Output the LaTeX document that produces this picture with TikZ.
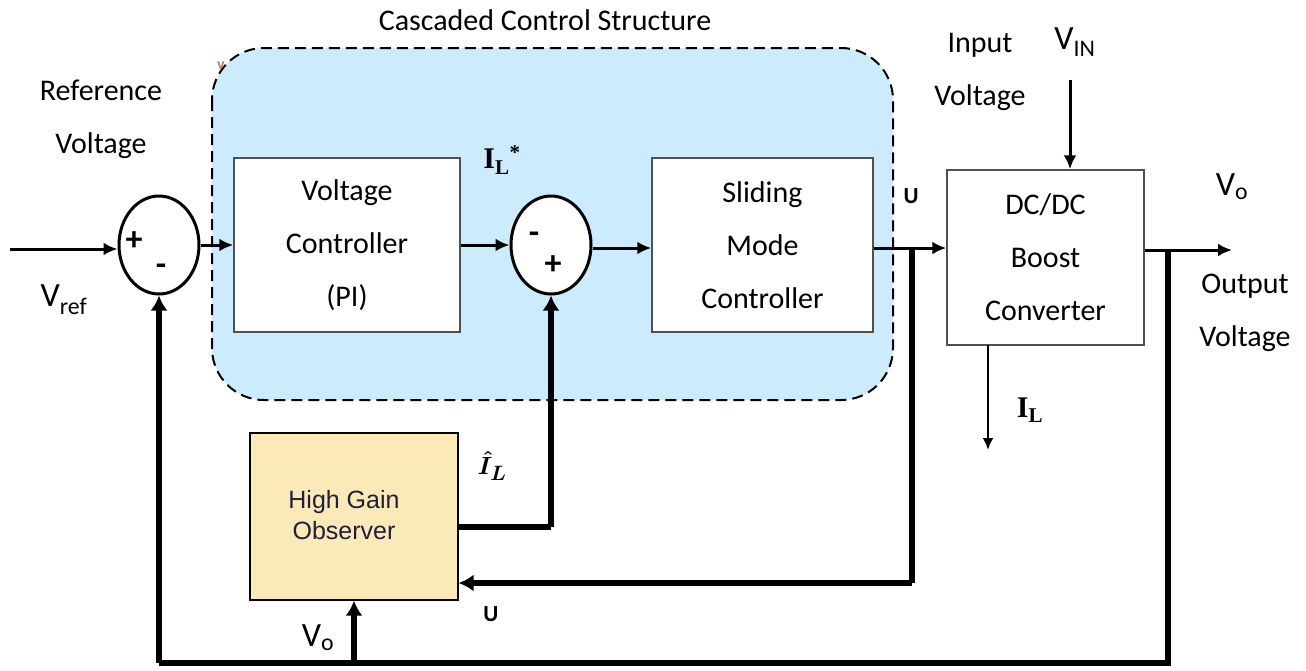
\documentclass[tikz,border=0pt]{standalone}
\usepackage{amsmath}
\usepackage{fontspec}
\setmainfont{Carlito}
\newfontfamily\arialf{Liberation Sans}
\newfontfamily\timesf{Liberation Serif}
\usetikzlibrary{arrows.meta,shapes.geometric}
\definecolor{cblue}{RGB}{204,235,252}
\definecolor{obsfill}{RGB}{252,233,184}
\definecolor{obstext}{RGB}{30,32,60}
\definecolor{boxline}{RGB}{80,80,80}
\begin{document}
\begin{tikzpicture}[x=1pt,y=-1pt,
  lbl/.style={font=\fontsize{30}{53}\selectfont, inner sep=0pt, align=center},
  small/.style={font=\fontsize{23}{24}\selectfont\bfseries, inner sep=0pt},
  sym/.style={font=\fontsize{34}{34}\selectfont\bfseries, inner sep=0pt},
  blockbox/.style={draw=boxline, line width=1.5pt, fill=white, minimum width=226pt, minimum height=174pt, inner sep=0pt, align=center, font=\fontsize{30}{53}\selectfont},
  sumc/.style={draw, ellipse, line width=3pt, fill=white, minimum width=80pt, minimum height=98pt, inner sep=0pt},
  fwd/.style={line width=3pt, -{Latex[length=14pt,width=13pt]}},
  fb/.style={line width=5.5pt},
  fba/.style={line width=5.5pt, -{Latex[length=15pt,width=17pt]}},
  cascbox/.style={draw, dashed, dash pattern=on 11pt off 6pt, line width=2pt, fill=cblue, rounded corners=52pt}
]
\useasboundingbox (0,0) rectangle (1306,670);

% cascaded region
\draw[cascbox] (212,48) rectangle (893,400);
\node[lbl] (title) at (545,20) {Cascaded Control Structure};
\node[font=\fontsize{16}{16}\selectfont\bfseries, text=brown, inner sep=0pt] (vmark) at (221,66) {v};

% blocks
\node[blockbox] (vc) at (347,245) {Voltage\\Controller\\(PI)};
\node[blockbox, minimum width=221pt] (smc) at (762.5,245) {Sliding\\Mode\\Controller};
\node[blockbox, minimum width=197pt, minimum height=175pt] (dc) at (1045.5,257.5) {DC/DC\\Boost\\Converter};
\node[draw=black, line width=1.2pt, fill=obsfill, minimum width=208pt, minimum height=167pt, inner sep=0pt] (obs) at (354,516.5) {};
\node[font=\arialf\fontsize{25}{31}\selectfont, text=obstext, align=center, inner sep=0pt] (obstxt) at (344,515) {High Gain\\Observer};

% summing junctions
\node[sumc] (s1) at (159,245) {};
\node[sym] (s1p) at (134,241) {+};
\node[sym] (s1m) at (161,270) {-};
\node[sumc] (s2) at (551,245) {};
\node[sym] (s2m) at (534,238) {-};
\node[sym] (s2p) at (553,265) {+};

% coordinates
\coordinate (in) at (10,249);
\coordinate (j1) at (912,248);
\coordinate (c1) at (912,583);
\coordinate (j2) at (1168,250);
\coordinate (c2) at (1168,663);
\coordinate (c3) at (159,663);
\coordinate (c4) at (354,663);
\coordinate (c5) at (551,527);
\coordinate (vin) at (1070,80);
\coordinate (out) at (1232,250);
\coordinate (ilend) at (988,450);
\coordinate (ilstart) at (988,345);

% forward path
\draw[fwd] (in) -- (s1.west |- in);
\draw[fwd] (s1.east) -- (vc.west |- s1.east);
\draw[fwd] (vc.east) -- (s2.west |- vc.east);
\draw[fwd] (s2.east |- j1) -- (smc.west |- j1);
\draw[fwd] (smc.east |- j1) -- (dc.west |- j1);
\draw[fwd] (dc.east |- j2) -- (out);
\draw[fwd] (vin) -- (dc.north -| vin);
\draw[line width=2.5pt, -{Latex[length=12pt,width=11pt]}] (ilstart) -- (ilend);

% feedback paths
\draw[fb] (j1) -- (c1);
\draw[fba] (c1) -- (obs.east |- c1);
\draw[fb] (j2) -- (c2) -- (c3);
\draw[fba] (c3) -- (s1.south);
\draw[fba] (c4) -- (obs.south);
\draw[fb] (obs.east |- c5) -- (c5);
\draw[fba] (c5) -- (s2.south);

% labels
\node[lbl] (refv) at (101,119) {Reference\\Voltage};
\node[font=\fontsize{34}{34}\selectfont, inner sep=0pt] (vref) at (64,300) {V\textsubscript{ref}};
\node[font=\timesf\bfseries\fontsize{30}{30}\selectfont, inner sep=0pt] (ilstar) at (502,160) {I\textsubscript{L}\textsuperscript{*}};
\node[small] (u1) at (911,196) {U};
\node[lbl] (inv) at (980,72) {Input\\Voltage};
\node[font=\fontsize{34}{34}\selectfont, inner sep=0pt] (vinl) at (1075,42) {V\textsubscript{IN}};
\node[font=\fontsize{34}{34}\selectfont, inner sep=0pt] (vo1) at (1232,187) {V\textsubscript{o}};
\node[lbl] (outv) at (1245,313) {Output\\Voltage};
\node[font=\timesf\bfseries\fontsize{30}{30}\selectfont, inner sep=0pt] (il) at (1030,410) {I\textsubscript{L}};
\node[font=\fontsize{30}{30}\selectfont, inner sep=0pt] (ilhat) at (492,466) {$\boldsymbol{\hat{I}_L}$};
\node[small] (u2) at (491,614) {U};
\node[font=\fontsize{34}{34}\selectfont, inner sep=0pt] (vo2) at (318,638) {V\textsubscript{o}};
\end{tikzpicture}
\end{document}
